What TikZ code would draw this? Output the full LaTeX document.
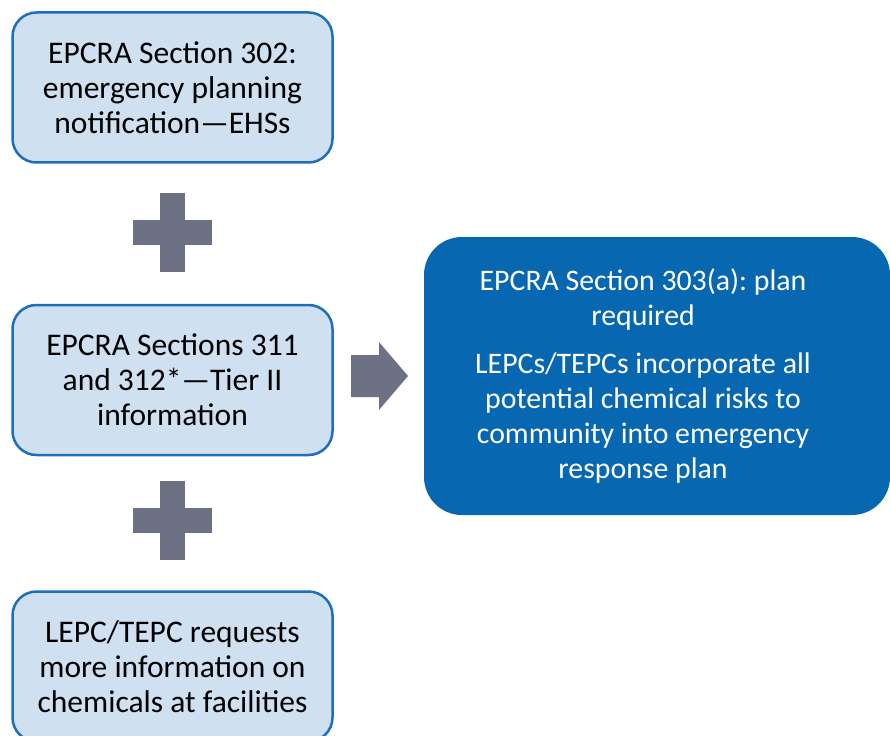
\documentclass[tikz,border=0pt]{standalone}
\usepackage{fontspec}
\setmainfont{Carlito}
\usetikzlibrary{positioning}
\definecolor{lightfill}{RGB}{207,224,240}
\definecolor{edgeblue}{RGB}{30,110,185}
\definecolor{planblue}{RGB}{8,103,177}
\definecolor{slate}{RGB}{108,114,132}
\tikzset{info box/.style={rectangle,rounded corners=24pt,fill=lightfill,draw=edgeblue,line width=2.5pt,
                          minimum width=320pt,minimum height=150pt,inner sep=0pt,align=center,text=black},
         plan box/.style={rectangle,rounded corners=38pt,fill=planblue,draw=none,
                          minimum width=466pt,minimum height=278pt,inner sep=0pt},
         plan text/.style={align=center,text=white,inner sep=0pt,font=\fontsize{29.8}{35}\selectfont},
         bar h/.style={rectangle,fill=slate,draw=none,minimum width=79pt,minimum height=25pt,inner sep=0pt},
         bar v/.style={rectangle,fill=slate,draw=none,minimum width=25pt,minimum height=79pt,inner sep=0pt},
         go arrow/.style={fill=slate,draw=none},
}
\begin{document}
\frenchspacing
\begin{tikzpicture}[x=1pt,y=-1pt,
font=\fontsize{31.5}{35}\selectfont]

\useasboundingbox (0,0) rectangle (890,735);

% left column
\node[info box] (s302) at (172.5,87.5) {EPCRA Section 302:\\emergency planning\\notification---EHSs};
\node[info box, below=140pt of s302] (s311) {EPCRA Sections 311\\and 312*---Tier II\\information};
\node[info box, below=134pt of s311] (lepc) {LEPC/TEPC requests\\more information on\\chemicals at facilities};

% plus signs
\node[bar h] (plusa) at (172.5,232.5) {};
\node[bar v] at (plusa) {};
\node[bar h] (plusb) at (172.5,520) {};
\node[bar v] at (plusb) {};

% result
\node[plan box] (s303) at (657,376) {};
\node[plan text] (s303text) at (643,376) {EPCRA Section 303(a): plan\\required\\[13pt]LEPCs/TEPCs incorporate all\\potential chemical risks to\\community into emergency\\response plan};

% block arrow
\coordinate (toplan) at (351,376);
\fill[go arrow] (toplan) ++(0,-21) -- ++(28,0) -- ++(0,-13) -- ++(29,34) -- ++(-29,34) -- ++(0,-13) -- ++(-28,0) -- cycle;
\end{tikzpicture}
\end{document}
